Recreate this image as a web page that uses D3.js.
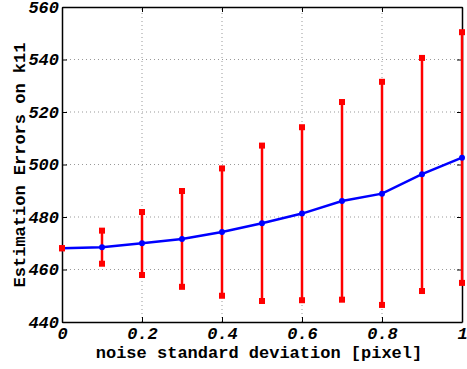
<!DOCTYPE html>
<html>
<head>
<meta charset="utf-8">
<script src="https://cdn.jsdelivr.net/npm/d3@7"></script>
<style>
  body { margin: 0; background: #fff; }
  .tick text { font-family: "Liberation Mono", monospace; font-weight: bold; font-style: italic; font-size: 17px; }
  .lbl { font-family: "Liberation Mono", monospace; font-weight: bold; font-size: 17px; }
</style>
</head>
<body>
<div id="chart"></div>
<script>
// noise levels and estimated k11 (mean, upper, lower)
var noise = [0, 0.1, 0.2, 0.3, 0.4, 0.5, 0.6, 0.7, 0.8, 0.9, 1.0];
var meanK = [468.1, 468.5, 470.0, 471.6, 474.3, 477.6, 481.3, 486.1, 488.9, 496.3, 502.6];
var upperK = [468.1, 474.8, 481.9, 489.9, 498.5, 507.2, 514.2, 523.8, 531.5, 540.6, 550.4];
var lowerK = [468.1, 462.2, 457.9, 453.4, 450.0, 448.0, 448.3, 448.5, 446.5, 451.8, 454.9];
var xTicks = [0, 0.2, 0.4, 0.6, 0.8, 1];
var yTicks = [440, 460, 480, 500, 520, 540, 560];

var width = 467, height = 369;
var m = {left: 62, right: 5, top: 7, bottom: 47};

var svg = d3.select("#chart").append("svg")
    .attr("width", width).attr("height", height);

var x = d3.scaleLinear().domain([0, 1]).range([m.left, width - m.right]);
var y = d3.scaleLinear().domain([440, 560]).range([height - m.bottom, m.top]);

// grid
var grid = svg.append("g");
grid.selectAll(".gx").data(xTicks.slice(1, -1)).enter().append("line")
    .attr("x1", d => x(d)).attr("x2", d => x(d))
    .attr("y1", y(440)).attr("y2", y(560))
    .attr("stroke", "#999").attr("stroke-width", 1).attr("stroke-dasharray", "1,3");
grid.selectAll(".gy").data(yTicks.slice(1, -1)).enter().append("line")
    .attr("x1", x(0)).attr("x2", x(1))
    .attr("y1", d => y(d)).attr("y2", d => y(d))
    .attr("stroke", "#999").attr("stroke-width", 1).attr("stroke-dasharray", "1,3");

// axes
var xAxis = d3.axisBottom(x).tickValues(xTicks).tickSizeInner(-5).tickSizeOuter(0)
    .tickPadding(5).tickFormat(d => d == 1 ? "1" : d == 0 ? "0" : d3.format(".1f")(d));
var yAxis = d3.axisLeft(y).tickValues(yTicks).tickSizeInner(-5).tickSizeOuter(0).tickPadding(3);

svg.append("g").attr("transform", "translate(0," + y(440) + ")").call(xAxis);
svg.append("g").attr("transform", "translate(" + x(0) + ",0)").call(yAxis);
svg.append("g").attr("transform", "translate(0," + y(560) + ")")
    .call(d3.axisTop(x).tickValues(xTicks).tickSizeInner(-5).tickSizeOuter(0).tickFormat(""));
svg.append("g").attr("transform", "translate(" + x(1) + ",0)")
    .call(d3.axisRight(y).tickValues(yTicks).tickSizeInner(-5).tickSizeOuter(0).tickFormat(""));
svg.selectAll(".domain").attr("stroke", "#000").attr("stroke-width", 1.5);
svg.selectAll(".tick line").attr("stroke", "#000");
svg.selectAll(".tick text").attr("fill", "#000");

// error bars
var idx = d3.range(noise.length);
svg.append("g").selectAll("line").data(idx).enter().append("line")
    .attr("x1", i => x(noise[i])).attr("x2", i => x(noise[i]))
    .attr("y1", i => y(lowerK[i])).attr("y2", i => y(upperK[i]))
    .attr("stroke", "red").attr("stroke-width", 2.5);

// mean line
var line = d3.line().x(i => x(noise[i])).y(i => y(meanK[i]));
svg.append("path").datum(idx).attr("d", line)
    .attr("fill", "none").attr("stroke", "blue").attr("stroke-width", 2.5);
svg.append("g").selectAll("circle").data(idx).enter().append("circle")
    .attr("cx", i => x(noise[i])).attr("cy", i => y(meanK[i])).attr("r", 3)
    .attr("fill", "blue");

// caps
var caps = [];
idx.forEach(function(i) { caps.push([noise[i], upperK[i]]); caps.push([noise[i], lowerK[i]]); });
svg.append("g").selectAll("rect").data(caps).enter().append("rect")
    .attr("x", d => x(d[0]) - 3).attr("y", d => y(d[1]) - 3)
    .attr("width", 6).attr("height", 6).attr("fill", "red");

// labels
svg.append("text").attr("class", "lbl")
    .attr("x", 259).attr("y", 358).attr("text-anchor", "middle")
    .text("noise standard deviation [pixel]");
svg.append("text").attr("class", "lbl")
    .attr("transform", "translate(25,165) rotate(-90)")
    .attr("text-anchor", "middle")
    .text("Estimation Errors on k11");
</script>
</body>
</html>
